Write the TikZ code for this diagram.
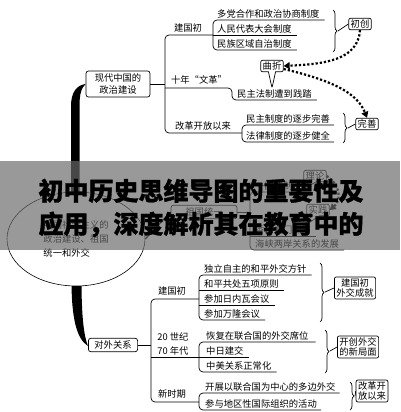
\documentclass[tikz,border=0pt]{standalone}
\usepackage{fontspec}
\newfontfamily\cjk{Noto Sans CJK SC}
\newfontfamily\cjkhead[BoldFeatures={FakeBold=1.3}]{Noto Sans CJK SC}
\usetikzlibrary{arrows.meta,shapes.geometric,shapes.callouts,
                decorations.pathreplacing}
\newcommand{\sz}{\fontsize{9.3}{12.5}\selectfont}
\newcommand{\tz}{\fontsize{9.3}{10.5}\selectfont}
\tikzset{
  topic/.style ={draw, line width=0.7pt, rounded corners=2.5pt, fill=white,
                 align=center, inner xsep=6pt, inner ysep=2.5pt,
                 font=\cjk\sz},
  tag/.style   ={draw, line width=0.7pt, rounded corners=2pt, fill=white,
                 align=center, inner xsep=2pt, inner ysep=1.5pt,
                 font=\cjk\tz},
  item/.style  ={anchor=south west, inner xsep=1pt, inner ysep=1.5pt,
                 font=\cjk\sz},
  lbl/.style   ={inner sep=1pt, font=\cjk\sz},
  ln/.style    ={line width=0.7pt, rounded corners=4pt},
  hop/.style   ={line width=2.2pt, dash pattern=on 2.2pt off 2pt,
                 -{Triangle[length=6pt,width=7pt]}},
  br/.style    ={decorate, decoration={brace, amplitude=4pt},
                 line width=0.7pt},
  veil/.style  ={fill=black!59, fill opacity=0.68},
  head/.style  ={font=\cjkhead\bfseries\fontsize{25}{33}\selectfont,
                 align=center, inner sep=0pt}
}

\begin{document}
\begin{tikzpicture}[x=1pt, y=-1pt]
\useasboundingbox (0,0) rectangle (400,412);

% political construction
\node[topic, minimum width=64] (polit) at (118,84) {现代中国的\\政治建设};
\node[lbl] (jg) at (188,28) {建国初};
\node[lbl] (wg) at (199,80) {十年“文革”};
\node[lbl] (gg) at (203,126) {改革开放以来};
\draw[ln] (polit.east) -- (165,84);
\draw[ln] (213,35) -- (165,35) -- (165,133) -- (242,133);

\foreach \t/\y/\n in {多党合作和政治协商制度/20/a1, 人民代表大会制度/35/a2,
                      民族区域自治制度/50/a3}
  \node[item] (\n) at (216,\y) {\t};
\draw[ln] ([xshift=4pt]a1.south east) -- (213,20) -- (213,50)
  -- ([xshift=4pt]a3.south east);
\draw[ln] (213,35) -- ([xshift=4pt]a2.south east);

\node[item] (m1) at (236,100) {民主法制遭到践踏};
\draw[ln] (165,88) -- (232,88) -- (232,100) -- ([xshift=4pt]m1.south east);

\foreach \t/\y/\n in {民主制度的逐步完善/125/c1, 法律制度的逐步健全/142/c2}
  \node[item] (\n) at (245,\y) {\t};
\draw[ln] ([xshift=3pt]c1.south east) -- (242,125) -- (242,142)
  -- ([xshift=3pt]c2.south east);

\node[tag] (chu) at (360,24) {初创};
\draw[br] (333,10) -- (333,52);
\draw[line width=0.7pt] (338,31) -- (chu.west);
\node[tag] (wan) at (367,124) {完善};
\draw[br] (343,113) -- (343,143);
\draw[line width=0.7pt] (348,128) -- (wan.west);
\node[tag, rectangle callout, callout absolute pointer={(272,88)}]
  (qz) at (272,66) {曲折};
\draw[hop] (chu.south) .. controls (358,60) and (325,64) .. (qz.east);
\draw[hop] ([yshift=-3pt]qz.east) .. controls (330,80) and (357,92)
  .. (wan.north);

% centre, under the banner
\fill (71,196) -- (71,106) .. controls (71,92) and (77,85)
  .. (polit.west) .. controls (81,88) and (79.5,95) .. (79.5,106)
  -- (79.5,196) -- cycle;
\fill (71.5,280) .. controls (71.5,320) and (77,339) .. (88,346)
  .. controls (84,336) and (81.5,318) .. (81.5,280) -- cycle;
\node[draw, ellipse, line width=0.6pt, fill=white, minimum width=138,
  minimum height=94, inner sep=0pt, align=left,
  font=\cjk\fontsize{9.3}{14}\selectfont]
  (society) at (76,239) {中国社会主义的\\政治建设、祖国\\统一和外交};
\node[topic, minimum width=66] (unity) at (204,212) {祖国统一};
\draw[line width=1.2pt] (society.east) -- (unity.west);
\draw[ln] (unity.east) -- (250,212);
\foreach \t/\y/\n in {一国两制/192/u1, 香港澳门回归/236/u2,
                      海峡两岸关系的发展/250/u3}
  \node[item] (\n) at (254,\y) {\t};
\draw[ln] ([xshift=4pt]u1.south east) -- (250,192) -- (250,250)
  -- ([xshift=4pt]u3.south east);
\draw[ln] (250,236) -- ([xshift=4pt]u2.south east);
\node[tag, rectangle callout, callout absolute pointer={(300,191)}]
  (lilun) at (315,176) {理论};
\node[tag, rectangle callout, callout absolute pointer={(300,229)}]
  (shijian) at (318,210) {实践};
\draw[hop] (lilun.east) .. controls (340,184) and (342,200) .. (shijian.east);

% foreign relations
\node[topic] (waij) at (113,345) {对外关系};
\node[lbl] (jg2) at (172,291) {建国初};
\node[lbl] (nd) at (173,337) {20 世纪};
\node[lbl] (nd2) at (173,351) {70 年代};
\node[lbl] (xs) at (172,394) {新时期};
\draw[ln] (waij.east) -- (151,345);
\draw[ln] (199,299) -- (151,299) -- (151,402) -- (199,402);
\draw[ln] (151,357) -- (199,357);

\foreach \t/\y/\n in {独立自主的和平外交方针/275/b1, 和平共处五项原则/290/b2,
                      参加日内瓦会议/305/b3, 参加万隆会议/320/b4}
  \node[item] (\n) at (203,\y) {\t};
\draw[ln] ([xshift=4pt]b1.south east) -- (199,275) -- (199,320)
  -- ([xshift=4pt]b4.south east);
\draw[ln] (199,290) -- ([xshift=4pt]b2.south east);
\draw[ln] (199,305) -- ([xshift=4pt]b3.south east);

\foreach \t/\y/\n in {恢复在联合国的外交席位/342/e1, 中日建交/357/e2,
                      中美关系正常化/372/e3}
  \node[item] (\n) at (205,\y) {\t};
\draw[ln] ([xshift=6pt]e1.south east) -- (199,342) -- (199,372)
  -- ([xshift=4pt]e3.south east);
\draw[ln] (199,357) -- ([xshift=4pt]e2.south east);

\foreach \t/\y/\n in {开展以联合国为中心的多边外交/393/d1,
                      参与地区性国际组织的活动/410/d2}
  \node[item] (\n) at (204,\y) {\t};
\draw[ln] ([xshift=3pt]d1.south east) -- (199,393) -- (199,410)
  -- ([xshift=3pt]d2.south east);

\node[tag] (cj) at (355,288) {建国初\\外交成就};
\draw[br] (320,263) -- (320,322);
\draw[line width=0.7pt] (325,292) -- (cj.west);
\node[tag] (kc) at (358,347) {开创外交\\的新局面};
\draw[br] (325,330) -- (325,373);
\draw[line width=0.7pt] (330,351) -- (kc.west);
\node[tag] (gk) at (372,391) {改革开\\放以来};
\draw[br] (350,382) -- (350,410);
\draw[line width=0.7pt] (355,396) -- (gk.west);

% banner
\fill[veil] (0,161) rectangle (400,250);
\node[head] (title) at (201,208)
  {初中历史思维导图的重要性及\\应用，深度解析其在教育中的};
\end{tikzpicture}
\end{document}
